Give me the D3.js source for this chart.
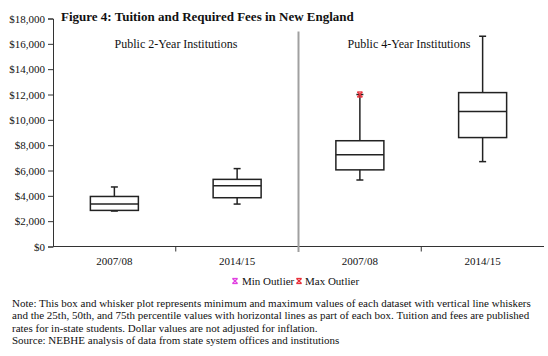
<!DOCTYPE html>
<html><head><meta charset="utf-8">
<script src="https://cdn.jsdelivr.net/npm/d3@7"></script>
<style>
body{margin:0;background:#fff;}
svg{display:block;font-family:"Liberation Serif","Times New Roman",serif;}
</style></head>
<body><svg id="c" width="548" height="356"></svg>
<script>
const title = "Figure 4: Tuition and Required Fees in New England";
const groups = ["Public 2-Year Institutions","Public 4-Year Institutions"];
const categories = ["2yr-2007/08","2yr-2014/15","4yr-2007/08","4yr-2014/15"];
const yearLabels = ["2007/08","2014/15","2007/08","2014/15"];
const mins    = [2800, 3350, 5250, 6700];
const q1s     = [2850, 3850, 6050, 8600];
const medians = [3350, 4800, 7250, 10650];
const q3s     = [3950, 5300, 8350, 12150];
const maxs    = [4700, 6150, 12000, 16600];
const maxOutliers = [null, null, 12000, null];
const yTicks = [0,2000,4000,6000,8000,10000,12000,14000,16000,18000];
const legendItems = ["Min Outlier","Max Outlier"];
const noteLines = [
 "Note: This box and whisker plot represents minimum and maximum values of each dataset with vertical line whiskers",
 "and the 25th, 50th, and 75th percentile values with horizontal lines as part of each box. Tuition and fees are published",
 "rates for in-state students. Dollar values are not adjusted for inflation.",
 "Source: NEBHE analysis of data from state system offices and institutions"
];

const svg = d3.select("#c");
const x = d3.scaleBand().domain(categories).range([53,544]).padding(0);
const y = d3.scaleLinear().domain([0,18000]).range([246.5,18.5]);
const fmt = d => "$" + d3.format(",")(d);

// y axis
const ya = svg.append("g").attr("transform","translate(53,0)")
  .call(d3.axisLeft(y).tickValues(yTicks).tickFormat(fmt).tickSize(5).tickPadding(3));
ya.select(".domain").attr("stroke","#333");
ya.selectAll(".tick line").attr("stroke","#333");
ya.selectAll("text").attr("font-family","Liberation Serif").attr("font-size","11px").attr("fill","#111");

// x axis
const xa = svg.append("g").attr("transform","translate(0,246.5)");
xa.append("line").attr("x1",53).attr("x2",544).attr("stroke","#333");
[1,3].forEach(i=>{
  const xx = x(categories[i]);
  xa.append("line").attr("x1",xx).attr("x2",xx).attr("y1",0).attr("y2",5).attr("stroke","#333");
});
categories.forEach((c,i)=>{
  xa.append("text").attr("x",x(c)+x.bandwidth()/2).attr("y",18)
    .attr("text-anchor","middle").attr("font-size","11px").attr("fill","#111").text(yearLabels[i]);
});

// divider
const divX = x(categories[2]);
svg.append("line").attr("x1",divX).attr("x2",divX).attr("y1",31.5).attr("y2",252)
  .attr("stroke","#a0a0a0").attr("stroke-width",2);

// group labels
svg.append("text").attr("x",176).attr("y",48).attr("text-anchor","middle")
  .attr("font-size","12px").attr("fill","#111").text(groups[0]);
svg.append("text").attr("x",409).attr("y",48).attr("text-anchor","middle")
  .attr("font-size","12px").attr("fill","#111").text(groups[1]);

// title
svg.append("text").attr("x",61).attr("y",21).attr("font-size","13px").attr("font-weight","bold")
  .attr("fill","#111").text(title);

function drawX(cx, cy, col){
  const s = 2.5;
  const g = svg.append("g").attr("stroke",col).attr("stroke-width",1.3);
  g.append("line").attr("x1",cx-s).attr("x2",cx+s).attr("y1",cy-s).attr("y2",cy+s);
  g.append("line").attr("x1",cx-s).attr("x2",cx+s).attr("y1",cy+s).attr("y2",cy-s);
  g.append("line").attr("x1",cx-s).attr("x2",cx+s).attr("y1",cy-s).attr("y2",cy-s);
  g.append("line").attr("x1",cx-s).attr("x2",cx+s).attr("y1",cy+s).attr("y2",cy+s);
}

// boxes
const bw = 48, cap = 7;
categories.forEach((c,i)=>{
  const cx = x(c)+x.bandwidth()/2;
  const g = svg.append("g").attr("stroke","#222").attr("fill","none").attr("stroke-width",1.5);
  g.append("line").attr("x1",cx).attr("x2",cx).attr("y1",y(maxs[i])).attr("y2",y(q3s[i]));
  g.append("line").attr("x1",cx).attr("x2",cx).attr("y1",y(q1s[i])).attr("y2",y(mins[i]));
  g.append("line").attr("x1",cx-cap/2).attr("x2",cx+cap/2).attr("y1",y(maxs[i])).attr("y2",y(maxs[i]));
  g.append("line").attr("x1",cx-cap/2).attr("x2",cx+cap/2).attr("y1",y(mins[i])).attr("y2",y(mins[i]));
  g.append("rect").attr("x",cx-bw/2).attr("width",bw).attr("y",y(q3s[i])).attr("height",y(q1s[i])-y(q3s[i]));
  g.append("line").attr("x1",cx-bw/2).attr("x2",cx+bw/2).attr("y1",y(medians[i])).attr("y2",y(medians[i]));
  if (maxOutliers[i]!==null){
    drawX(cx, y(maxOutliers[i]), "#e8303a");
  }
});

// legend
drawX(235, 281, "#e040e0");
svg.append("text").attr("x",242).attr("y",285).attr("font-size","11px").attr("fill","#111").text(legendItems[0]);
drawX(299, 281, "#e8303a");
svg.append("text").attr("x",305).attr("y",285).attr("font-size","11px").attr("fill","#111").text(legendItems[1]);

// notes
noteLines.forEach((t,i)=>{
  svg.append("text").attr("x",12).attr("y",307).attr("dy",i*12.45).attr("font-size","11px").attr("fill","#111").text(t);
});
</script></body></html>
